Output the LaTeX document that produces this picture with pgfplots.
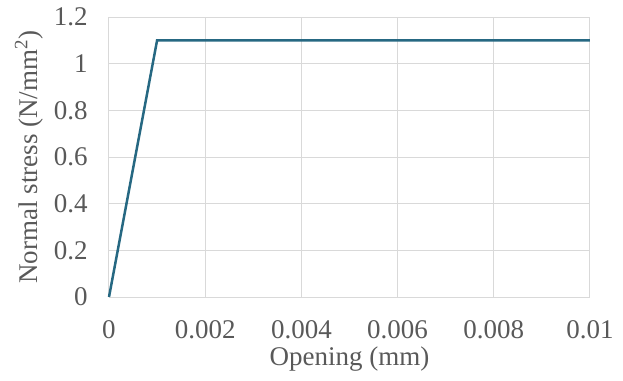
\documentclass[border=0pt]{standalone}
\usepackage{fontspec}
\setmainfont{Liberation Serif}
\usepackage{pgfplots}
\pgfplotsset{compat=1.18}
\definecolor{linec}{RGB}{38,104,130}
\definecolor{gridc}{RGB}{217,217,217}
\definecolor{textc}{RGB}{89,89,89}
\begin{document}
\fontsize{13.5}{16}\selectfont
\begin{tikzpicture}
\useasboundingbox (-54.5pt,-42pt) rectangle (257pt,148.5pt);
\begin{axis}[
  at={(0,0)}, anchor=south west,
  scale only axis, width=240.5pt, height=140pt,
  xmin=0, xmax=0.01, ymin=0, ymax=1.2,
  xtick={0,0.002,0.004,0.006,0.008,0.01},
  xticklabels={0,0.002,0.004,0.006,0.008,0.01},
  ytick={0,0.2,0.4,0.6,0.8,1,1.2},
  yticklabels={0,0.2,0.4,0.6,0.8,1,1.2},
  scaled x ticks=false,
  grid=major,
  major grid style={gridc, line width=0.5pt},
  axis line style={draw=none},
  tick style={draw=none},
  ticklabel style={font=\fontsize{13.5}{16}\selectfont, text=textc},
  yticklabel style={xshift=-6pt},
  xticklabel style={yshift=-7pt},
  xlabel={Opening (mm)},
  ylabel={Normal stress (N/mm\textsuperscript{2})},
  label style={font=\fontsize{13.5}{16}\selectfont, text=textc},
  xlabel style={yshift=5pt},
  ylabel style={yshift=-4pt},
  clip=false,
]
\addplot[linec, line width=1.25pt] coordinates {(0,0) (0.001,1.1) (0.01,1.1)};
\end{axis}
\end{tikzpicture}
\end{document}
